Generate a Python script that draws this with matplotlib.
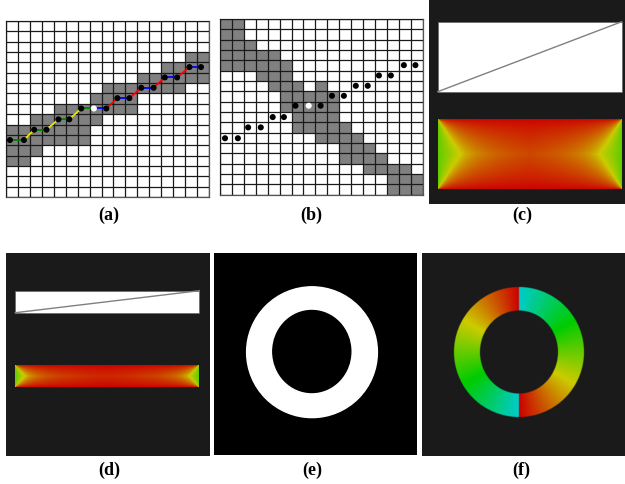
import numpy as np
import matplotlib
matplotlib.use("Agg")
import matplotlib.pyplot as plt
from matplotlib.patches import Rectangle, Ellipse
from matplotlib.colors import hsv_to_rgb

# ---------------- data ----------------
n_cols = 17
n_rows = 17

# gray cell spans per row (row, first col, last col)
a_span_row = [3, 4, 5, 6, 7, 8, 9, 10, 11, 12, 13]
a_span_c0 = [15, 13, 11, 8, 7, 4, 2, 0, 0, 0, 0]
a_span_c1 = [16, 16, 16, 14, 10, 10, 7, 6, 6, 2, 1]

b_span_row = [0, 1, 2, 3, 4, 5, 6, 6, 7, 8, 9, 10, 11, 12, 13, 14, 15, 16]
b_span_c0 = [0, 0, 0, 0, 0, 3, 4, 8, 5, 5, 6, 6, 8, 10, 10, 12, 14, 14]
b_span_c1 = [1, 1, 2, 4, 5, 5, 6, 8, 9, 9, 9, 10, 11, 12, 13, 15, 16, 16]

# sample points (cell coords)
a_pts_x = [0.33, 1.5, 2.36, 3.39, 4.39, 5.3, 6.3, 7.36, 8.4, 9.33, 10.33,
           11.33, 12.36, 13.3, 14.33, 15.36, 16.33]
a_pts_y = [11.5, 11.5, 10.5, 10.5, 9.5, 9.5, 8.45, 8.45, 8.45, 7.45, 7.45,
           6.45, 6.45, 5.45, 5.45, 4.45, 4.45]
b_pts_x = [0.42, 1.5, 2.36, 3.42, 4.42, 5.36, 6.33, 7.44, 8.44, 9.39, 10.39,
           11.39, 12.39, 13.33, 14.33, 15.42, 16.39]
b_pts_y = [11.55, 11.55, 10.5, 10.5, 9.5, 9.5, 8.4, 8.4, 8.4, 7.44, 7.44,
           6.47, 6.47, 5.47, 5.47, 4.47, 4.47]
center_idx = 7
seg_colors = ['#008000', '#e8e800', '#008000', '#e8e800', '#008000', '#e8e800',
              '#008000', '#0000ff', '#ff0000', '#0000ff', '#ff0000', '#0000ff',
              '#ff0000', '#0000ff', '#ff0000', '#0000ff']

labels = ['(a)', '(b)', '(c)', '(d)', '(e)', '(f)']

# ---------------- figure ----------------
W, H = 625, 484
fig = plt.figure(figsize=(W / 100, H / 100), dpi=100)
fig.patch.set_facecolor('white')


def px_axes(x0, y0, x1, y1, fc='white'):
    ax = fig.add_axes([x0 / W, 1 - y1 / H, (x1 - x0) / W, (y1 - y0) / H])
    ax.set_facecolor(fc)
    return ax


def grid_panel(ax, rows, c0, c1, px, py, with_lines):
    ax.set_xlim(0, n_cols)
    ax.set_ylim(n_rows, 0)
    for r, s, e in zip(rows, c0, c1):
        ax.broken_barh([(s, e - s + 1)], (r, 1), facecolors='#808080',
                       edgecolor='none', zorder=1)
    ax.set_xticks(np.arange(n_cols + 1))
    ax.set_yticks(np.arange(n_rows + 1))
    ax.grid(True, color='#1a1a1a', lw=0.9)
    ax.set_axisbelow(False)
    ax.tick_params(length=0, labelbottom=False, labelleft=False)
    for sp in ax.spines.values():
        sp.set_color('#555555')
        sp.set_linewidth(0.9)
    if with_lines:
        for i in range(len(px) - 1):
            ax.plot(px[i:i + 2], py[i:i + 2], color=seg_colors[i], lw=1.3,
                    zorder=3, solid_capstyle='butt')
    cols = ['black'] * len(px)
    cols[center_idx] = 'white'
    ax.scatter(px, py, s=19, c=cols, edgecolors='none', zorder=4)


ax_a = px_axes(6, 21, 209, 197)
grid_panel(ax_a, a_span_row, a_span_c0, a_span_c1, a_pts_x, a_pts_y, True)
ax_b = px_axes(220, 19, 422.7, 194.5)
grid_panel(ax_b, b_span_row, b_span_c0, b_span_c1, b_pts_x, b_pts_y, False)


def grad_image(w, h, k, gamma):
    x = np.arange(w) + 0.5
    y = np.arange(h) + 0.5
    X, Y = np.meshgrid(x, y)
    dx = np.minimum(X, w - X)
    dy = np.minimum(Y, h - Y)
    q = dy / (k * dx)
    hue = np.where(q <= 1, 60 * np.clip(q, 0, 1) ** gamma, 60 + 32 * (1 - 1 / q))
    hsv = np.stack([hue / 360.0, np.ones_like(hue), np.full_like(hue, 0.8)], -1)
    return hsv_to_rgb(hsv)


def dark_panel(x0, y0, x1, y1, fc):
    ax = px_axes(x0, y0, x1, y1, fc)
    ax.set_xlim(x0, x1)
    ax.set_ylim(y1, y0)
    ax.set_axis_off()
    ax.add_patch(Rectangle((x0, y0), x1 - x0, y1 - y0, color=fc, zorder=0))
    return ax


# (c)
ax_c = dark_panel(429, 0, 625, 204, '#1a1a1a')
ax_c.add_patch(Rectangle((437.7, 21.7), 184, 70, facecolor='white',
                         edgecolor='#666666', lw=0.5, zorder=1))
ax_c.plot([437.7, 621.7], [91.7, 21.7], color='#808080', lw=1.0, zorder=2)
ax_c.imshow(grad_image(184, 70, 1.54, 0.75), extent=(437.7, 621.7, 189.3, 119.3),
            interpolation='bilinear', zorder=1)
ax_c.set_xlim(429, 625)
ax_c.set_ylim(204, 0)

# (d)
ax_d = dark_panel(6, 253, 210, 455.7, '#1a1a1a')
ax_d.add_patch(Rectangle((15.3, 290.7), 184, 22, facecolor='white',
                         edgecolor='#666666', lw=0.5, zorder=1))
ax_d.plot([15.3, 199.3], [312.7, 290.7], color='#808080', lw=1.0, zorder=2)
ax_d.imshow(grad_image(184, 22, 1.1, 0.75), extent=(15.3, 199.3, 387, 365.7),
            interpolation='bilinear', zorder=1)
ax_d.set_xlim(6, 210)
ax_d.set_ylim(455.7, 253)

# (e)
ax_e = dark_panel(214, 253.3, 416.7, 455, 'black')
ax_e.add_patch(Ellipse((312, 352.2), 2 * 65.4, 2 * 65.4, color='white', zorder=1))
ax_e.add_patch(Ellipse((311.8, 351.5), 2 * 39, 2 * 41, color='black', zorder=2))
ax_e.set_xlim(214, 416.7)
ax_e.set_ylim(455, 253.3)

# (f)
ax_f = dark_panel(421.7, 253.3, 625, 455.7, '#1a1a1a')
cx, cy, R_out, rx_in, ry_in = 519, 352.5, 65, 39, 41.5
ys, xs = np.mgrid[0:4 * 132, 0:4 * 132]
gx = cx - 66 + (xs + 0.5) / 4
gy = cy - 66 + (ys + 0.5) / 4
ddx = gx - cx
ddy = gy - cy
theta = np.degrees(np.arctan2(ddx, -ddy)) % 360
hue = 180 - (theta % 180)
rgb = hsv_to_rgb(np.stack([hue / 360, np.ones_like(hue), np.full_like(hue, 0.8)], -1))
mask = (ddx ** 2 + ddy ** 2 <= R_out ** 2) & ((ddx / rx_in) ** 2 + (ddy / ry_in) ** 2 >= 1)
rgba = np.dstack([rgb, mask.astype(float)])
ax_f.imshow(rgba, extent=(cx - 66, cx + 66, cy + 66, cy - 66),
            interpolation='bilinear', zorder=1)
ax_f.set_xlim(421.7, 625)
ax_f.set_ylim(455.7, 253.3)

# labels
label_xy = [(109, 215), (311, 215), (522, 215), (109, 470), (312, 470), (521, 470)]
for t, (lx, ly) in zip(labels, label_xy):
    fig.text(lx / W, 1 - ly / H, t, ha='center', va='center', fontsize=13,
             fontweight='bold', family='Liberation Serif')

fig.savefig('out.png', dpi=100)
